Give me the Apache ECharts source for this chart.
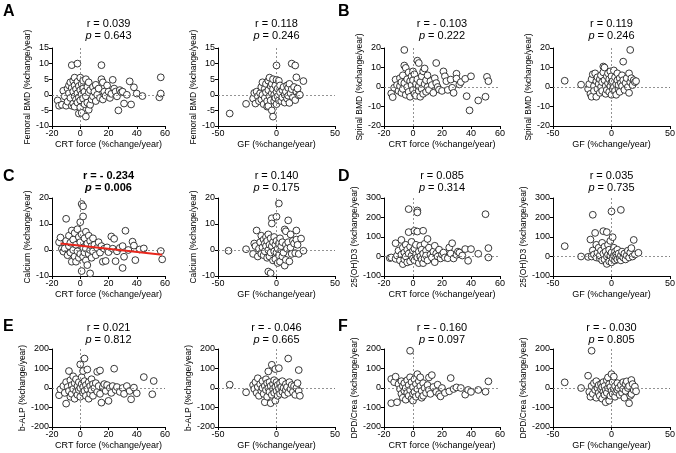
<!DOCTYPE html>
<html><head><meta charset="utf-8">
<script src="https://cdn.jsdelivr.net/npm/echarts@6/dist/echarts.min.js"></script>
<style>html,body{margin:0;padding:0;background:#fff}#c{width:676px;height:453px}</style>
</head><body><div id="c"></div>
<script>
const crtFemoral = [[-16,-1.8],[-15,-3.5],[-13,-3.2],[-12,1.3],[-11,-0.5],[-10,-3.5],[-9,2.0],[-9,-2.2],[-8,0.5],[-8,3.0],[-7,-1.0],[-7,4.0],[-6,9.5],[-6,2.2],[-6,-3.5],[-5,4.5],[-5,1.0],[-5,-2.8],[-4,5.5],[-4,3.0],[-4,-0.5],[-4,-3.8],[-3,1.8],[-3,-1.5],[-2,10.0],[-2,4.2],[-2,0.5],[-2,-2.5],[-1,-6.0],[-1,2.8],[-1,-0.8],[0,5.5],[0,1.5],[0,-1.8],[0,-4.0],[1,-5.8],[1,3.5],[1,0.2],[2,4.5],[2,-1.2],[2,2.0],[3,-3.0],[3,1.0],[4,5.0],[4,-7.0],[4,-0.5],[5,2.5],[5,-2.5],[6,4.0],[6,0.8],[6,-4.8],[7,-3.2],[7,1.5],[8,-1.5],[9,2.5],[9,-0.5],[10,1.0],[11,3.2],[11,-2.0],[12,0.0],[13,2.0],[14,-1.0],[15,9.5],[15,5.0],[16,4.0],[16,-1.5],[17,1.0],[18,-0.3],[19,3.0],[20,1.0],[21,-1.0],[22,0.3],[23,4.8],[24,2.0],[25,1.0],[26,-0.5],[27,-5.0],[28,1.5],[29,0.8],[30,1.0],[31,-2.8],[33,0.0],[35,4.3],[36,-3.1],[38,2.4],[40,0.4],[44,-0.4],[56,-0.8],[57,0.4],[57,5.6]];
const gfFemoral = [[-40,-6],[-26,-2.9],[-20,-1.2],[-19,0.6],[-18,-2.8],[-17,1.0],[-16,-0.5],[-15,-2.0],[-14,0.5],[-13,2.5],[-13,-1.5],[-12,4.0],[-12,0.0],[-11,-3.0],[-10,2.0],[-10,-1.0],[-9,3.5],[-9,0.8],[-8,-2.0],[-8,-3.8],[-7,4.5],[-7,1.5],[-7,-3.6],[-6,5.5],[-6,-0.5],[-5,2.8],[-5,-1.8],[-4,-5.0],[-4,0.5],[-4,3.5],[-3,-7.0],[-3,5.0],[-3,1.8],[-2,-2.0],[-2,0.0],[-1,3.0],[-1,-1.0],[0,9.4],[0,4.8],[0,1.0],[0,-3.0],[1,2.0],[1,-0.5],[2,4.5],[2,-1.8],[3,0.8],[3,3.0],[4,-2.0],[5,1.5],[5,-0.8],[6,2.5],[7,0.0],[7,-2.5],[8,1.0],[9,3.0],[9,-1.2],[10,2.2],[10,-0.3],[11,3.5],[11,-2.6],[12,0.5],[13,10.0],[13,1.8],[14,-0.8],[15,2.5],[16,9.4],[16,-1.7],[17,5.6],[17,1.0],[18,2.0],[19,-0.2],[20,0.0],[23,4.4]];
const crtSpinal = [[-15,-3.3],[-14,-5.2],[-13,-0.4],[-12,3.8],[-11,1.0],[-10,-2.0],[-9,4.5],[-9,0.5],[-8,2.5],[-8,-3.0],[-7,6.0],[-7,-1.0],[-6,19.0],[-6,11.0],[-6,2.0],[-5,9.8],[-5,-4.0],[-4,4.0],[-4,0.0],[-3,7.5],[-3,-2.5],[-2,3.0],[-2,-5.0],[-1,5.5],[-1,1.0],[0,8.0],[0,-1.5],[0,3.5],[1,-3.5],[1,6.5],[2,1.5],[2,-4.5],[3,13.5],[3,4.0],[4,12.3],[4,-2.0],[4,0.5],[5,2.5],[5,-5.0],[6,5.5],[6,-1.0],[7,8.0],[7,-3.5],[8,9.5],[8,1.5],[9,3.5],[9,-2.5],[10,6.0],[10,0.0],[11,-1.5],[12,3.0],[13,1.0],[14,-3.0],[15,4.5],[16,12.3],[16,2.0],[17,0.0],[18,-1.3],[20,-2.0],[21,8.0],[22,5.5],[23,3.0],[24,-1.5],[26,3.8],[27,-0.4],[28,-3.0],[30,6.8],[30,4.3],[32,1.3],[33,2.5],[36,4.2],[37,-4.7],[39,-12.0],[40,5.5],[45,-6.9],[50,-5.0],[51,5.2],[52,3.0]];
const gfSpinal = [[-40,3.2],[-26,1.2],[-20,-1.0],[-19,1.5],[-18,-3.5],[-17,-5.0],[-17,4.0],[-16,6.5],[-15,0.5],[-15,-2.0],[-14,7.0],[-13,-5.0],[-13,3.0],[-12,5.0],[-12,-1.0],[-11,1.5],[-10,-3.0],[-10,4.0],[-9,6.0],[-9,0.0],[-8,2.5],[-8,-2.0],[-7,10.5],[-7,7.5],[-6,10.0],[-6,3.5],[-5,-3.5],[-5,0.5],[-4,5.5],[-4,-1.5],[-3,2.0],[-3,7.0],[-2,-2.5],[-2,4.0],[-1,0.5],[-1,8.0],[0,-4.0],[0,2.5],[0,5.5],[1,-1.0],[1,3.0],[2,8.5],[2,0.0],[3,-2.0],[3,5.0],[4,1.5],[4,-4.0],[5,3.5],[5,7.0],[6,-1.0],[6,1.0],[7,4.5],[7,-2.5],[8,2.0],[9,6.0],[9,0.5],[10,13.0],[10,3.5],[11,-1.5],[12,2.0],[13,4.5],[14,0.0],[15,7.0],[15,-3.0],[16,19.0],[16,2.5],[17,4.5],[18,1.0],[19,3.5],[20,2.5],[21,3.0]];
const crtCalcium = [[-15,3.0],[-14,4.8],[-13,0.5],[-12,-0.6],[-11,0.6],[-10,12.0],[-10,3.5],[-9,-2.0],[-8,1.5],[-8,5.5],[-7,-1.0],[-7,2.8],[-6,-4.5],[-6,7.5],[-5,4.0],[-5,0.0],[-4,6.5],[-4,-2.5],[-3,-4.5],[-3,2.0],[-2,8.0],[-2,-0.5],[-1,5.0],[-1,-3.0],[0,10.7],[0,3.0],[0,-1.5],[1,17.7],[1,-8.1],[1,6.0],[2,16.8],[2,12.9],[2,1.0],[2,-2.5],[3,4.5],[3,-1.0],[4,7.0],[4,0.5],[4,-4.0],[5,-5.8],[5,2.5],[6,5.5],[6,-1.5],[7,-9.0],[7,3.5],[7,0.0],[8,1.5],[8,-3.0],[9,4.5],[9,-0.5],[10,2.0],[11,-2.0],[12,0.8],[13,3.0],[14,-1.0],[15,1.5],[16,-4.5],[17,0.5],[18,-4.2],[19,1.0],[20,-0.8],[22,5.2],[23,0.5],[24,4.3],[25,-4.3],[26,-0.5],[28,0.8],[30,-6.9],[30,1.5],[31,-2.6],[32,7.4],[34,0.0],[37,3.2],[38,1.7],[39,-3.9],[42,0.2],[45,0.6],[57,-0.4],[58,-3.6]];
const gfCalcium = [[-41,-0.3],[-26,0.3],[-20,-1.5],[-19,2.5],[-18,1.5],[-17,7.5],[-16,-2.5],[-15,0.5],[-14,3.0],[-13,-1.5],[-13,5.5],[-12,1.0],[-11,4.0],[-11,-2.0],[-10,2.5],[-10,-0.5],[-9,5.0],[-9,1.5],[-8,3.5],[-8,-3.0],[-7,-8.3],[-7,6.0],[-7,0.0],[-6,2.0],[-6,-2.5],[-5,-8.9],[-5,4.5],[-5,-1.0],[-4,12.2],[-4,10.2],[-4,1.5],[-3,-4.0],[-3,3.0],[-2,-0.5],[-2,5.0],[-1,2.0],[-1,-3.5],[0,12.8],[0,-1.0],[0,3.5],[1,0.5],[1,-5.0],[2,17.9],[2,2.5],[2,-2.0],[3,4.5],[3,-4.5],[4,0.0],[4,1.5],[5,-2.5],[5,3.0],[6,-1.0],[7,7.9],[7,-6.0],[8,7.2],[8,-3.8],[8,2.0],[9,0.5],[10,11.4],[10,3.0],[11,-4.4],[12,6.0],[12,1.0],[13,-1.5],[14,3.5],[15,2.5],[16,-1.2],[17,7.5],[17,4.0],[18,2.0],[19,-1.5],[21,4.4],[23,-0.3]];
const crtVitD = [[-16,-8],[-15,-5],[-12,-12],[-12,68],[-11,5],[-10,30],[-9,-20],[-8,85],[-8,10],[-7,-39],[-7,45],[-6,20],[-6,-15],[-5,60],[-5,0],[-4,35],[-4,-30],[-3,243],[-3,125],[-3,15],[-2,-25],[-2,50],[-1,5],[-1,75],[0,30],[0,-10],[1,132],[1,40],[1,-20],[2,10],[2,60],[3,236],[3,226],[3,128],[3,-5],[4,25],[4,-34],[5,55],[5,0],[6,-15],[6,35],[7,132],[7,-34],[7,15],[8,65],[8,-10],[9,30],[9,5],[10,90],[10,-20],[11,45],[12,10],[13,-5],[14,25],[15,-29],[15,55],[16,15],[17,0],[18,35],[19,-10],[20,10],[21,20],[22,-5],[24,-9],[25,46],[26,15],[27,68],[28,-10],[30,9],[31,25],[32,20],[34,5],[36,38],[38,-22],[40,38],[45,14],[50,217],[52,43],[52,-5]];
const gfVitD = [[-40,53],[-26,0],[-20,-2],[-18,87],[-17,0],[-16,214],[-16,31],[-15,10],[-14,121],[-13,60],[-13,-5],[-12,20],[-11,45],[-10,-10],[-10,5],[-9,30],[-8,70],[-8,-20],[-7,130],[-7,15],[-6,50],[-6,-15],[-5,25],[-4,125],[-4,-38],[-4,0],[-3,60],[-3,10],[-2,-25],[-2,35],[-1,5],[-1,80],[0,231],[0,-30],[0,20],[1,99],[1,-10],[2,45],[2,5],[3,-20],[3,25],[4,10],[4,-5],[5,35],[5,-15],[6,15],[7,-10],[8,239],[8,-20],[8,5],[9,25],[10,-5],[11,15],[12,-15],[13,5],[14,30],[15,-5],[16,20],[17,43],[18,0],[19,85],[20,10],[23,19]];
const crtBalp = [[-15,-37],[-14,-7],[-12,10],[-11,-25],[-10,-80],[-10,30],[-9,5],[-8,87],[-8,-15],[-7,40],[-7,-45],[-6,15],[-6,-30],[-5,60],[-5,-5],[-4,25],[-4,-55],[-3,-20],[-3,45],[-2,10],[-2,-35],[-1,30],[-1,-10],[0,121],[0,0],[0,-45],[1,55],[1,20],[2,87],[2,-25],[2,5],[3,151],[3,35],[3,-15],[4,-40],[4,15],[5,95],[5,-5],[6,30],[6,-55],[7,10],[7,-30],[8,45],[8,-10],[9,20],[9,-40],[10,0],[11,25],[12,83],[12,-20],[13,10],[14,90],[14,-30],[15,-75],[16,5],[17,20],[18,-15],[19,15],[20,-66],[21,0],[22,-25],[23,10],[24,99],[25,-10],[26,5],[28,-20],[30,0],[31,-30],[33,10],[35,-15],[36,-58],[38,2],[40,-27],[45,56],[51,-32],[52,36]];
const gfBalp = [[-40,17],[-26,-22],[-20,15],[-19,-5],[-18,30],[-17,-25],[-16,50],[-16,5],[-15,-40],[-14,20],[-13,-15],[-12,35],[-12,0],[-11,-30],[-10,-73],[-10,10],[-9,45],[-9,-10],[-8,25],[-8,-45],[-7,85],[-7,0],[-6,-20],[-6,30],[-5,-78],[-5,10],[-4,119],[-4,-35],[-3,20],[-3,-5],[-2,40],[-2,-25],[-1,97],[-1,-65],[-1,5],[0,30],[0,-15],[1,-40],[1,15],[2,102],[2,-5],[3,25],[3,-30],[4,5],[5,-20],[5,35],[6,0],[7,-35],[8,20],[8,-10],[9,5],[10,151],[10,-25],[11,30],[12,-5],[13,15],[14,-20],[15,10],[16,-35],[17,0],[18,25],[19,92],[19,-15],[20,-40]];
const crtDpd = [[-15,-78],[-15,46],[-13,30],[-12,58],[-11,-73],[-10,20],[-9,-5],[-8,35],[-8,-30],[-7,10],[-7,-50],[-6,25],[-6,-15],[-5,0],[-5,-60],[-4,40],[-4,-25],[-3,15],[-3,-40],[-2,191],[-2,55],[-2,-10],[-1,30],[-1,-55],[0,-65],[0,5],[0,-30],[1,45],[1,-20],[2,20],[2,-45],[3,71],[3,-5],[4,35],[4,-35],[5,55],[5,10],[6,-15],[6,-50],[7,25],[7,-40],[8,0],[9,-25],[10,15],[11,54],[11,-10],[12,-30],[13,66],[14,5],[16,-20],[17,17],[18,-31],[19,-43],[20,0],[22,-25],[25,-17],[26,51],[28,-5],[30,3],[33,0],[36,-34],[38,-10],[40,-20],[45,-10],[50,-19],[52,34]];
const gfDpd = [[-40,29],[-26,0],[-20,63],[-19,-20],[-18,-45],[-17,191],[-17,10],[-16,-30],[-15,25],[-14,-10],[-13,-50],[-13,35],[-12,0],[-11,-25],[-11,15],[-10,-40],[-9,20],[-9,-5],[-8,-55],[-8,5],[-7,30],[-7,-20],[-6,-35],[-6,10],[-5,-73],[-5,-10],[-4,40],[-4,-25],[-3,54],[-3,0],[-2,-65],[-2,20],[-1,-40],[-1,5],[0,71],[0,-15],[1,30],[1,-30],[2,58],[2,-5],[3,10],[3,-45],[4,-20],[5,25],[5,-10],[6,0],[7,-35],[8,15],[9,-25],[10,30],[10,-5],[11,-50],[12,20],[12,-15],[13,34],[14,0],[15,-78],[15,10],[16,-40],[17,41],[17,-31],[18,20],[19,-10],[20,7],[21,-17]];

const calciumFit = [[-14,2.5],[58,-1.8]];

const yNames = ['Femoral BMD (%change/year)','Spinal BMD (%change/year)','Calcium (%change/year)','25(OH)D3 (%change/year)','b-ALP (%change/year)','DPD/Crea (%change/year)'];
const yMin = [-10,-20,-10,-100,-200,-200];
const yMax = [15,20,20,300,200,200];
const yStep = [5,10,10,100,100,100];
const xNames = ['CRT force (%change/year)','GF (%change/year)'];
const xMin = [-20,-50], xMax = [60,50], xStep = [20,50];
const rLabels = ['0.039','0.118','- 0.103','0.119','- 0.234','0.140','0.085','0.035','0.021','- 0.046','- 0.160','- 0.030'];
const pLabels = ['0.643','0.246','0.222','0.246','0.006','0.175','0.314','0.735','0.812','0.665','0.097','0.805'];
const panelLetters = ['A','B','C','D','E','F'];

const panelData = [crtFemoral,gfFemoral,crtSpinal,gfSpinal,crtCalcium,gfCalcium,crtVitD,gfVitD,crtBalp,gfBalp,crtDpd,gfDpd];

// layout
const colLeft = [52,218,384,553], colWidth = [113,117,116,117];
const rowTop = [48,198,349], rowHeight = 78;
const nameGaps = [17.5,18.5,16.7,19,17,17.7,16.5,19.5,19,18,20.5,19];
const titleRY = [24,176,328], titlePY = [35.5,188,340];
const letterX = [3,338], letterY = [11.5,176.5,326.5];
const FONT = '"Liberation Sans", Arial, Helvetica, sans-serif';

const grid = [], xAxis = [], yAxis = [], series = [], graphic = [];
panelData.forEach((d, i) => {
  const row = Math.floor(i / 4), col = i % 4;
  const m = row * 2 + Math.floor(col / 2);
  const g = col % 2;
  grid.push({left: colLeft[col], top: rowTop[row], width: colWidth[col], height: rowHeight, outerBoundsMode: 'none', containLabel: false});
  const axisCommon = {
    gridIndex: i, type: 'value',
    axisLine: {show: true, onZero: false, lineStyle: {color: '#000', width: 1}},
    axisTick: {show: true, length: 3, lineStyle: {color: '#000', width: 1}},
    axisLabel: {fontSize: 9, color: '#000', margin: 3, fontFamily: FONT},
    splitLine: {show: false},
    nameLocation: 'middle',
    nameTextStyle: {fontSize: 8.5, color: '#000', fontFamily: FONT}
  };
  xAxis.push(Object.assign({}, axisCommon, {min: xMin[g], max: xMax[g], interval: xStep[g], name: xNames[g], nameGap: 14,
    nameTextStyle: {fontSize: 9, color: '#000', fontFamily: FONT}}));
  yAxis.push(Object.assign({}, axisCommon, {min: yMin[m], max: yMax[m], interval: yStep[m], name: yNames[m], nameGap: nameGaps[i]}));
  series.push({
    type: 'scatter', xAxisIndex: i, yAxisIndex: i, data: [], z: 1, silent: true,
    markLine: {silent: true, symbol: 'none', label: {show: false},
      lineStyle: {type: [2, 2], color: '#777', width: 0.8},
      data: [{xAxis: 0}, {yAxis: 0}]}
  });
  series.push({
    type: 'scatter', xAxisIndex: i, yAxisIndex: i, data: d, z: 3,
    symbol: 'circle', symbolSize: 6.8,
    itemStyle: {color: '#fff', borderColor: '#222', borderWidth: 0.9, opacity: 1}
  });
  const cx = colLeft[col] + colWidth[col] / 2;
  const bold = i === 4 ? 'bold' : 'normal';
  graphic.push({type: 'text', x: cx, y: titleRY[row], style: {text: 'r = ' + rLabels[i], fontSize: 11, fontFamily: FONT, fontWeight: bold, fill: '#000', align: 'center', verticalAlign: 'middle'}});
  graphic.push({type: 'text', x: cx, y: titlePY[row], style: {text: '{i|p} = ' + pLabels[i], fontSize: 11, fontFamily: FONT, fontWeight: bold, fill: '#000', align: 'center', verticalAlign: 'middle',
    rich: {i: {fontStyle: 'italic', fontSize: 11, fontFamily: FONT, fontWeight: bold, fill: '#000'}}}});
});
series.push({type: 'line', xAxisIndex: 4, yAxisIndex: 4, data: calciumFit, showSymbol: false, symbol: 'none', z: 5,
  lineStyle: {color: '#e8261c', width: 2}});
panelLetters.forEach((L, k) => {
  graphic.push({type: 'text', x: letterX[k % 2], y: letterY[Math.floor(k / 2)], style: {text: L, fontSize: 16, fontWeight: 'bold', fontFamily: FONT, fill: '#000', align: 'left', verticalAlign: 'middle'}});
});

const chart = echarts.init(document.getElementById('c'), null, {renderer: 'canvas'});
chart.setOption({animation: false, grid, xAxis, yAxis, series, graphic});
</script></body></html>
